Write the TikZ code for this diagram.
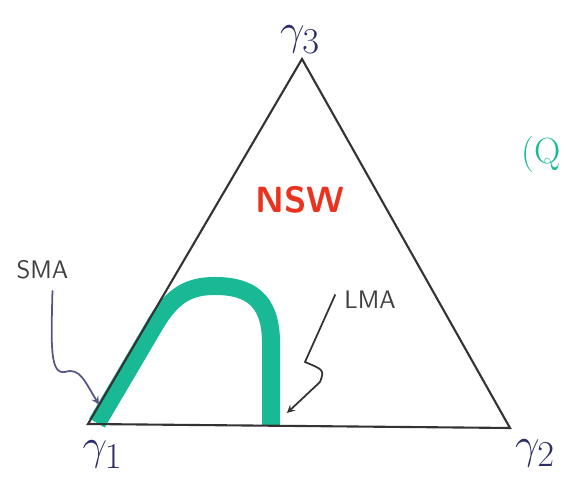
\documentclass[tikz,border=0pt]{standalone}
\usepackage{amsmath}
\usepackage{tikz}
\usetikzlibrary{positioning, arrows.meta}

\definecolor{inkblue}{RGB}{45,45,105}
\definecolor{band}{RGB}{25,185,150}
\definecolor{marker}{RGB}{235,50,30}

\begin{document}
\begin{tikzpicture}[> = stealth, auto, thick,
    vlabel/.style = {text = inkblue, font = \Huge},
    tag/.style = {text = black!75, font = \sffamily\Large}]
    \useasboundingbox (0,0) rectangle (11.34,9.54);

    \coordinate (g1) at (1.76,1.06);
    \coordinate (g2) at (10.20,0.98);
    \coordinate (g3) at (6.04,8.36);

    % the region of the large majorities
    \draw[band, line width=0.36cm, line cap=butt] (1.94,1.08) -- (3.10,3.05)
        .. controls (3.46,3.66) and (3.80,3.82) .. (4.30,3.82)
        .. controls (5.00,3.82) and (5.40,3.54) .. (5.42,2.74) -- (5.42,1.04);

    \draw[black!80, line width=1.2pt] (g1) -- (g2) -- (g3) -- cycle;

    \node[vlabel] (l3) at (6.0,8.75) {$\gamma_3$};
    \node[vlabel] (l1) at (2.05,0.45) {$\gamma_1$};
    \node[vlabel] (l2) at (10.7,0.48) {$\gamma_2$};

    \node[text = marker, font = \sffamily\bfseries\huge] (nsw) at (6.0,5.55) {NSW};

    \node[tag] (sma) at (0.85,4.15) {SMA};
    \node[tag] (lma) at (7.4,3.55) {LMA};
    \coordinate (smatip) at (1.98,1.45);
    \coordinate (lmatip) at (5.74,1.28);

    \draw[->, inkblue!80, line width=1pt] (sma.south) ++(0.2,-0.1) coordinate (s0)
        .. controls (1.02,2.6) and (1.0,2.05) .. (1.3,2.1)
        .. controls (1.6,2.2) and (1.7,1.9) .. (smatip);
    \draw[->, black!80, line width=1pt] (lma.west) ++(-0.05,0.1) coordinate (m0)
        -- (6.1,2.3) .. controls (6.45,2.15) and (6.5,2.15) .. (6.4,1.9)
        -- (lmatip);

    \node[text = band, font = \huge, anchor = east] (q) at (11.34,6.45) {(Q};
\end{tikzpicture}
\end{document}
